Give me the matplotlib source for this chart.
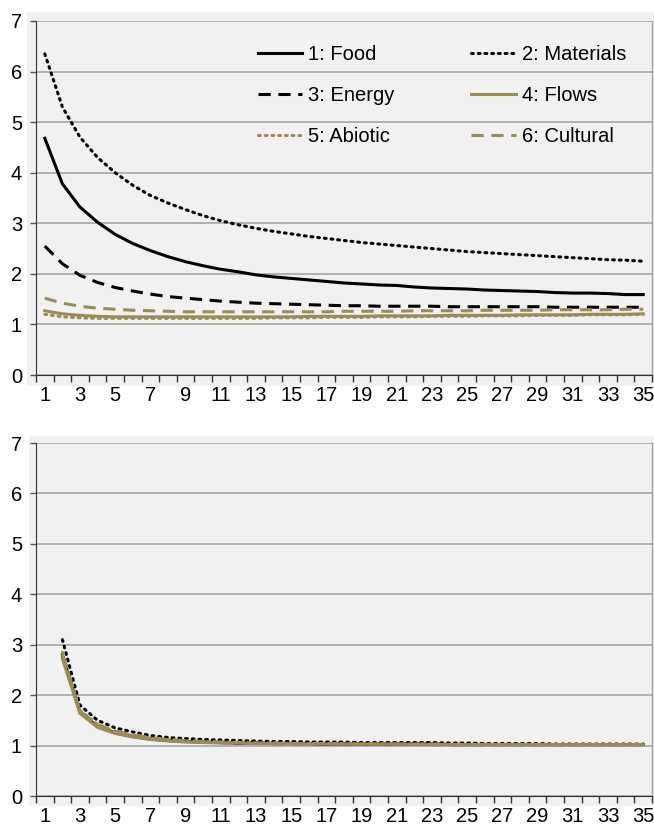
import matplotlib
matplotlib.use("Agg")
import matplotlib.pyplot as plt
from matplotlib.patches import Rectangle
import numpy as np

plt.rcParams['font.family'] = ['Liberation Sans', 'DejaVu Sans']

x = list(range(1, 36))
labels = ["1: Food", "2: Materials", "3: Energy", "4: Flows", "5: Abiotic", "6: Cultural"]

# Top panel
top_food = [4.68, 3.78, 3.32, 3.02, 2.78, 2.60, 2.46, 2.34, 2.24, 2.16, 2.09, 2.04, 1.98, 1.94, 1.91,
            1.88, 1.85, 1.82, 1.80, 1.78, 1.77, 1.74, 1.72, 1.71, 1.70, 1.68, 1.67, 1.66, 1.65, 1.63,
            1.62, 1.62, 1.61, 1.59, 1.59]
top_materials = [6.35, 5.30, 4.70, 4.30, 4.00, 3.75, 3.55, 3.40, 3.27, 3.15, 3.05, 2.97, 2.90, 2.84, 2.79,
                 2.74, 2.70, 2.66, 2.62, 2.59, 2.56, 2.53, 2.50, 2.47, 2.44, 2.42, 2.40, 2.38, 2.36, 2.34,
                 2.32, 2.30, 2.28, 2.27, 2.25]
top_energy = [2.55, 2.20, 1.97, 1.83, 1.73, 1.66, 1.60, 1.55, 1.52, 1.49, 1.46, 1.44, 1.42, 1.41, 1.40,
              1.39, 1.38, 1.37, 1.37, 1.36, 1.36, 1.36, 1.36, 1.35, 1.35, 1.35, 1.35, 1.35, 1.35, 1.34,
              1.34, 1.34, 1.34, 1.34, 1.34]
top_flows = [1.27, 1.21, 1.18, 1.16, 1.15, 1.15, 1.15, 1.15, 1.15, 1.15, 1.15, 1.15, 1.15, 1.15, 1.15,
             1.16, 1.16, 1.16, 1.16, 1.17, 1.17, 1.17, 1.17, 1.18, 1.18, 1.18, 1.18, 1.19, 1.19, 1.19,
             1.19, 1.20, 1.20, 1.20, 1.21]
top_abiotic = [1.20, 1.15, 1.13, 1.12, 1.12, 1.12, 1.12, 1.12, 1.12, 1.12, 1.12, 1.12, 1.12, 1.13, 1.13,
               1.13, 1.14, 1.14, 1.14, 1.15, 1.15, 1.15, 1.16, 1.16, 1.16, 1.17, 1.17, 1.17, 1.18, 1.18,
               1.18, 1.19, 1.19, 1.19, 1.20]
top_cultural = [1.52, 1.42, 1.36, 1.32, 1.30, 1.28, 1.27, 1.26, 1.25, 1.25, 1.25, 1.25, 1.25, 1.25, 1.25,
                1.25, 1.25, 1.26, 1.26, 1.26, 1.26, 1.27, 1.27, 1.27, 1.27, 1.28, 1.28, 1.28, 1.28, 1.29,
                1.29, 1.29, 1.29, 1.30, 1.30]

nan = np.nan
# Bottom panel (starts at 2)
bot_food = [nan, 2.80, 1.65, 1.38, 1.25, 1.18, 1.13, 1.10, 1.08, 1.07, 1.06, 1.05, 1.05, 1.04, 1.04,
            1.04, 1.03, 1.03, 1.03, 1.03, 1.03, 1.03, 1.03, 1.02, 1.02, 1.02, 1.02, 1.02, 1.02, 1.02,
            1.02, 1.02, 1.02, 1.02, 1.02]
bot_materials = [nan, 3.10, 1.80, 1.50, 1.35, 1.27, 1.20, 1.16, 1.14, 1.12, 1.11, 1.10, 1.09, 1.08, 1.08,
                 1.07, 1.07, 1.07, 1.06, 1.06, 1.06, 1.06, 1.06, 1.05, 1.05, 1.04, 1.04, 1.04, 1.04, 1.03,
                 1.03, 1.03, 1.03, 1.03, 1.03]
bot_energy = [nan, 2.78, 1.66, 1.40, 1.27, 1.19, 1.14, 1.11, 1.09, 1.07, 1.06, 1.05, 1.05, 1.04, 1.04,
              1.04, 1.03, 1.03, 1.03, 1.03, 1.03, 1.03, 1.02, 1.02, 1.02, 1.02, 1.02, 1.02, 1.02, 1.02,
              1.02, 1.02, 1.02, 1.02, 1.02]
bot_flows = [nan, 2.72, 1.64, 1.36, 1.24, 1.17, 1.12, 1.09, 1.07, 1.06, 1.05, 1.05, 1.04, 1.04, 1.04,
             1.03, 1.03, 1.03, 1.03, 1.03, 1.03, 1.02, 1.02, 1.02, 1.02, 1.02, 1.02, 1.02, 1.02, 1.02,
             1.02, 1.02, 1.02, 1.02, 1.02]
bot_abiotic = [nan, 2.85, 1.70, 1.42, 1.28, 1.20, 1.15, 1.12, 1.09, 1.08, 1.07, 1.06, 1.05, 1.05, 1.04,
               1.04, 1.04, 1.03, 1.03, 1.03, 1.03, 1.03, 1.03, 1.02, 1.02, 1.02, 1.02, 1.02, 1.02, 1.02,
               1.02, 1.02, 1.02, 1.02, 1.02]
bot_cultural = [nan, 2.80, 1.68, 1.41, 1.29, 1.21, 1.16, 1.12, 1.10, 1.08, 1.07, 1.06, 1.05, 1.05, 1.04,
                1.04, 1.04, 1.03, 1.03, 1.03, 1.03, 1.03, 1.03, 1.02, 1.02, 1.02, 1.02, 1.02, 1.02, 1.02,
                1.02, 1.02, 1.02, 1.02, 1.02]

yticks = [0, 1, 2, 3, 4, 5, 6, 7]

OLIVE = '#9a8c58'
styles = [
    dict(color='black', linestyle='-', linewidth=2.2),
    dict(color='black', linestyle=(0, (0.6, 1.6)), linewidth=2.2, dash_capstyle='round'),
    dict(color='black', linestyle=(0, (4, 2.5)), linewidth=2.2),
    dict(color=OLIVE, linestyle='-', linewidth=2.2),
    dict(color=OLIVE, linestyle=(0, (0.6, 1.6)), linewidth=2.2, dash_capstyle='round'),
    dict(color=OLIVE, linestyle=(0, (4, 2.5)), linewidth=2.2),
]

fig = plt.figure(figsize=(6.54, 8.25), dpi=100)
W, H = 654, 825

def bg(x0, y0, x1, y1):
    fig.patches.append(Rectangle((x0 / W, 1 - y1 / H), (x1 - x0) / W, (y1 - y0) / H,
                                 transform=fig.transFigure, facecolor='#f1f1f1',
                                 edgecolor='none', zorder=-10))

bg(27, 12, 654, 386)
bg(29, 436, 654, 806)

ax1 = fig.add_axes([36 / W, 1 - 375 / H, (652 - 36) / W, (375 - 21) / H])
ax2 = fig.add_axes([36 / W, 1 - 796 / H, (652 - 36) / W, (796 - 443) / H])

FS = 14.5

def style_ax(ax):
    ax.set_zorder(5)
    ax.set_facecolor('#f1f1f1')
    ax.set_xlim(0.5, 35.5)
    ax.set_ylim(0, 7)
    ax.set_yticks(yticks)
    ax.set_yticklabels([str(v) for v in yticks])
    ax.set_xticks([v + 0.5 for v in range(0, 36)])
    ax.set_xticklabels([])
    ax.set_xticks(x[::2], minor=True)
    ax.set_xticklabels([str(v) for v in x[::2]], minor=True)
    ax.tick_params(axis='x', which='major', length=5, width=1, color='#333333', direction='out')
    ax.tick_params(axis='x', which='minor', length=0, labelsize=FS, pad=8)
    ax.tick_params(axis='y', length=4, width=1, color='#555555', labelsize=FS, pad=6)
    ax.grid(axis='y', color='#a6a6a6', linewidth=1.2)
    ax.set_axisbelow(True)
    ax.spines['top'].set_visible(False)
    ax.spines['right'].set_color('#a0a0a0')
    ax.spines['right'].set_linewidth(1)
    ax.spines['left'].set_color('#333333')
    ax.spines['bottom'].set_color('#333333')

style_ax(ax1)
style_ax(ax2)

top_series = [top_food, top_materials, top_energy, top_flows, top_abiotic, top_cultural]
bot_series = [bot_food, bot_materials, bot_energy, bot_flows, bot_abiotic, bot_cultural]

handles = []
for s, st, lab in zip(top_series, styles, labels):
    h, = ax1.plot(x, s, label=lab, **st)
    handles.append(h)
for s, st in zip(bot_series, styles):
    ax2.plot(x, s, **st)

# legend order: row-wise (Food, Materials / Energy, Flows / Abiotic, Cultural)
order = [0, 2, 4, 1, 3, 5]
leg = ax1.legend([handles[i] for i in order], [labels[i] for i in order], ncol=2,
                 loc='upper left', bbox_to_anchor=((258 - 36) / 616, (375 - 45) / 354),
                 frameon=False, borderpad=0, borderaxespad=0,
                 fontsize=FS, handlelength=2.2, handletextpad=0.3,
                 labelspacing=1.1, columnspacing=3.8)

fig.savefig('out.png', dpi=100, facecolor='white')
